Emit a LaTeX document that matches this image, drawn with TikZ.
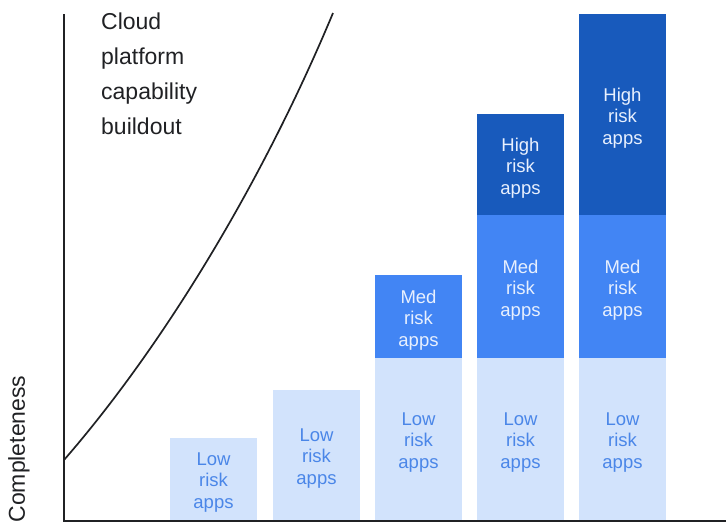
\documentclass[tikz,border=0pt]{standalone}
\usepackage{fontspec}
\setmainfont{Liberation Sans}
\definecolor{lowfill}{HTML}{D2E3FC}
\definecolor{lowtext}{HTML}{4A86E8}
\definecolor{medfill}{HTML}{4285F4}
\definecolor{highfill}{HTML}{185ABC}
\definecolor{palefont}{HTML}{E8F0FE}
\definecolor{axis}{HTML}{202124}
\begin{document}
\begin{tikzpicture}[x=1pt, y=-1pt,
  part/.style={anchor=north west, minimum width=87pt, inner sep=0pt, outer sep=0pt},
  apps/.style={align=center, yshift=-3.5pt, inner sep=0pt, font=\fontsize{18.5}{21.5}\selectfont},
  low/.style={part, fill=lowfill, label={[apps, text=lowtext]center:#1\\risk\\apps}},
  med/.style={part, fill=medfill, label={[apps, text=palefont]center:#1\\risk\\apps}},
  high/.style={part, fill=highfill, label={[apps, text=palefont]center:#1\\risk\\apps}}]
	\useasboundingbox (0, 0) rectangle (726, 523);
	\foreach \n/\x/\t/\b/\s/\l in {low1/170/438/520/low/Low, low2/273/390/520/low/Low,
	  low3/375/358/520/low/Low, med3/375/275/358/med/Med, low4/477/358/520/low/Low,
	  med4/477/215/358/med/Med, high4/477/114/215/high/High, low5/579/358/520/low/Low,
	  med5/579/215/358/med/Med, high5/579/14/215/high/High}
	    \node [\s=\l, minimum height={\b-\t}] (\n) at (\x, \t) {};
	\coordinate (top) at (64, 14);
	\coordinate (end) at (726, 520.5);
	\draw [axis, line width=2pt] (top) |- (end);
	\coordinate (start) at (64, 460);
	\coordinate (stop) at (333, 13);
	\draw [axis, line width=1.7pt] (start) .. controls (164, 345) and (263, 181) .. (stop);
	\node [anchor=north west, align=left, text=axis, inner sep=0pt,
	  font=\fontsize{23}{35}\selectfont] (cloud) at (101, 13)
	  {Cloud\\platform\\capability\\buildout};
	\node [rotate=90, text=axis, inner sep=0pt, font=\fontsize{23}{27}\selectfont]
	  (complete) at (19, 449) {Completeness};
\end{tikzpicture}
\end{document}
